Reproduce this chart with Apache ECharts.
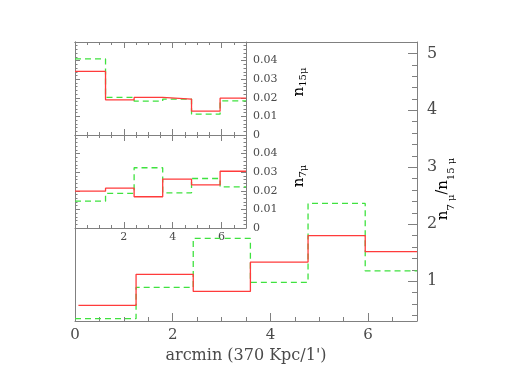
<!DOCTYPE html>
<html><head><meta charset="utf-8">
<script src="https://cdn.jsdelivr.net/npm/echarts@6/dist/echarts.min.js"></script>
<style>html,body{margin:0;padding:0;background:#fff}#c{width:510px;height:382px}</style>
</head><body><div id="c"></div>
<script>
// ---- data ----
const binEdges = [0, 1.25, 2.42, 3.59, 4.77, 5.94, 7];
const mainRedStart = 0.07;
const ratioRed   = [0.575, 1.12, 0.82, 1.335, 1.80, 1.52];
const ratioGreen = [0.34, 0.89, 1.75, 0.98, 2.365, 1.18];
const n15Red   = [0.0342, 0.0189, 0.0202, 0.0193, 0.0128, 0.0198];
const n15Green = [0.0409, 0.0202, 0.0182, 0.0193, 0.0112, 0.0184];
const n7Red    = [0.0198, 0.0214, 0.0168, 0.0263, 0.0232, 0.0305];
const n7Green  = [0.0144, 0.0186, 0.0324, 0.0189, 0.0266, 0.0221];
const mainXTicks = [0, 2, 4, 6];
const mainYTicks = [1, 2, 3, 4, 5];
const insetXTicks = [2, 4, 6];
const insetYTicks = [0, 0.01, 0.02, 0.03, 0.04];

// ---- helpers ----
function steps(edges, vals) {
  const pts = [];
  vals.forEach((v, i) => { pts.push([edges[i], v]); pts.push([edges[i + 1], v]); });
  return pts;
}
function range(a, b, step, exclude) {
  const out = [];
  for (let k = 0; a + k * step <= b + 1e-9; k++) {
    const v = Math.round((a + k * step) * 10000) / 10000;
    if (!exclude.some(e => Math.abs(e - v) < 1e-7)) out.push(v);
  }
  return out;
}
const AX = '#808080', TX = '#4a4a4a', FONT = 'DejaVu Serif';
const mainXMinor = range(0.5, 6.5, 0.5, mainXTicks);
const mainYMinor = range(0.4, 5.2, 0.2, mainYTicks);
const insetXMinor = range(0.5, 6.5, 0.5, [0].concat(insetXTicks));
const insetYMajor = insetYTicks.concat([0.05]);
const insetYMinor = range(0.002, 0.048, 0.002, insetYMajor);

function ticks(vals, len) {
  return { show: true, inside: true, length: len, customValues: vals, lineStyle: { color: AX, width: 1 } };
}
const NOLINE = { show: false, onZero: false };
const LINE = { show: true, onZero: false, lineStyle: { color: AX, width: 1 } };
function xAx(grid, pos, opts) {
  return Object.assign({ type: 'value', gridIndex: grid, position: pos, min: 0, max: 7,
    axisLine: NOLINE, axisTick: { show: false }, axisLabel: { show: false }, splitLine: { show: false } }, opts);
}
function yAx(grid, pos, min, max, opts) {
  return Object.assign({ type: 'value', gridIndex: grid, position: pos, min: min, max: max,
    axisLine: NOLINE, axisTick: { show: false }, axisLabel: { show: false }, splitLine: { show: false } }, opts);
}
const insetLabel = { show: true, customValues: insetYTicks, margin: 7, fontFamily: FONT, fontSize: 11, color: TX };

const xAxis = [
  // main grid (0..2)
  xAx(0, 'bottom', { axisLine: LINE, axisTick: ticks(mainXTicks, 8),
    axisLabel: { show: true, customValues: mainXTicks, fontFamily: FONT, fontSize: 15, color: TX, margin: 7 },
    name: "arcmin (370 Kpc/1')", nameLocation: 'middle', nameGap: 27,
    nameTextStyle: { fontFamily: FONT, fontSize: 16, color: TX } }),
  xAx(0, 'bottom', { axisTick: ticks(mainXMinor, 4) }),
  xAx(0, 'top', { axisLine: LINE }),
  // top inset (3..6)
  xAx(1, 'bottom', { axisLine: LINE, axisTick: ticks(insetXTicks, 6) }),
  xAx(1, 'bottom', { axisTick: ticks(insetXMinor, 3) }),
  xAx(1, 'top', { axisLine: LINE, axisTick: ticks(insetXTicks, 6) }),
  xAx(1, 'top', { axisTick: ticks(insetXMinor, 3) }),
  // bottom inset (7..10)
  xAx(2, 'bottom', { axisLine: LINE, axisTick: ticks(insetXTicks, 6),
    axisLabel: { show: true, customValues: insetXTicks, fontFamily: FONT, fontSize: 11, color: TX, margin: 4 } }),
  xAx(2, 'bottom', { axisTick: ticks(insetXMinor, 3) }),
  xAx(2, 'top', { axisLine: LINE, axisTick: ticks(insetXTicks, 6) }),
  xAx(2, 'top', { axisTick: ticks(insetXMinor, 3) })
];

const yAxis = [
  // main (0..2)
  yAx(0, 'right', 0.3, 5.2, { axisLine: LINE, axisTick: ticks(mainYTicks, 9),
    axisLabel: { show: true, customValues: mainYTicks, fontFamily: FONT, fontSize: 16, color: TX, margin: 10 } }),
  yAx(0, 'right', 0.3, 5.2, { axisTick: ticks(mainYMinor, 5) }),
  yAx(0, 'left', 0.3, 5.2, { axisLine: LINE }),
  // top inset (3..6)
  yAx(1, 'left', 0, 0.05, { axisLine: LINE, axisTick: ticks(insetYMajor, 5) }),
  yAx(1, 'left', 0, 0.05, { axisTick: ticks(insetYMinor, 2.5) }),
  yAx(1, 'right', 0, 0.05, { axisLine: LINE, axisTick: ticks(insetYMajor, 5), axisLabel: insetLabel }),
  yAx(1, 'right', 0, 0.05, { axisTick: ticks(insetYMinor, 2.5) }),
  // bottom inset (7..10)
  yAx(2, 'left', 0, 0.05, { axisLine: LINE, axisTick: ticks(insetYMajor, 5) }),
  yAx(2, 'left', 0, 0.05, { axisTick: ticks(insetYMinor, 2.5) }),
  yAx(2, 'right', 0, 0.05, { axisLine: LINE, axisTick: ticks(insetYMajor, 5), axisLabel: insetLabel }),
  yAx(2, 'right', 0, 0.05, { axisTick: ticks(insetYMinor, 2.5) })
];

const RED = '#ff3b3b', GREEN = '#3fe23f';
function ser(x, y, data, color, dashed) {
  return { type: 'line', xAxisIndex: x, yAxisIndex: y, data: data, symbol: 'none', silent: true,
    lineStyle: { color: color, width: 1.3, type: dashed ? [6, 4] : 'solid' } };
}
const mainRedEdges = [mainRedStart].concat(binEdges.slice(1));

const subRich = (big, small) => ({
  n: { fontFamily: FONT, fontSize: big, color: TX, lineHeight: big + 1, verticalAlign: 'top' },
  s: { fontFamily: FONT, fontSize: small, color: TX, lineHeight: small + 1, verticalAlign: 'bottom' },
  p: { fontFamily: FONT, fontSize: big - 1, color: TX, lineHeight: big + 6, verticalAlign: 'top' }
});

const option = {
  animation: false,
  backgroundColor: '#fff',
  grid: [
    { left: 75, top: 42, width: 342, height: 279 },
    { left: 75, top: 42, width: 171, height: 93 },
    { left: 75, top: 135, width: 171, height: 93 }
  ],
  xAxis: xAxis,
  yAxis: yAxis,
  series: [
    ser(0, 0, steps(binEdges, ratioGreen), GREEN, true),
    ser(0, 0, steps(mainRedEdges, ratioRed), RED, false),
    ser(3, 3, steps(binEdges, n15Green), GREEN, true),
    ser(3, 3, steps(binEdges, n15Red), RED, false),
    ser(7, 7, steps(binEdges, n7Green), GREEN, true),
    ser(7, 7, steps(binEdges, n7Red), RED, false)
  ],
  graphic: [
    { type: 'text', x: 446, y: 189, rotation: Math.PI / 2,
      style: { text: '{n|n}{s|7 μ}{p|/}{n|n}{s|15 μ}', rich: subRich(15, 10), align: 'center', verticalAlign: 'middle' } },
    { type: 'text', x: 300, y: 82, rotation: Math.PI / 2,
      style: { text: '{n|n}{s|15μ}', rich: subRich(15, 10), align: 'center', verticalAlign: 'middle' } },
    { type: 'text', x: 300, y: 176, rotation: Math.PI / 2,
      style: { text: '{n|n}{s|7μ}', rich: subRich(15, 10), align: 'center', verticalAlign: 'middle' } }
  ]
};
const chart = echarts.init(document.getElementById('c'), null, { renderer: 'canvas' });
chart.setOption(option);
</script>
</body></html>
